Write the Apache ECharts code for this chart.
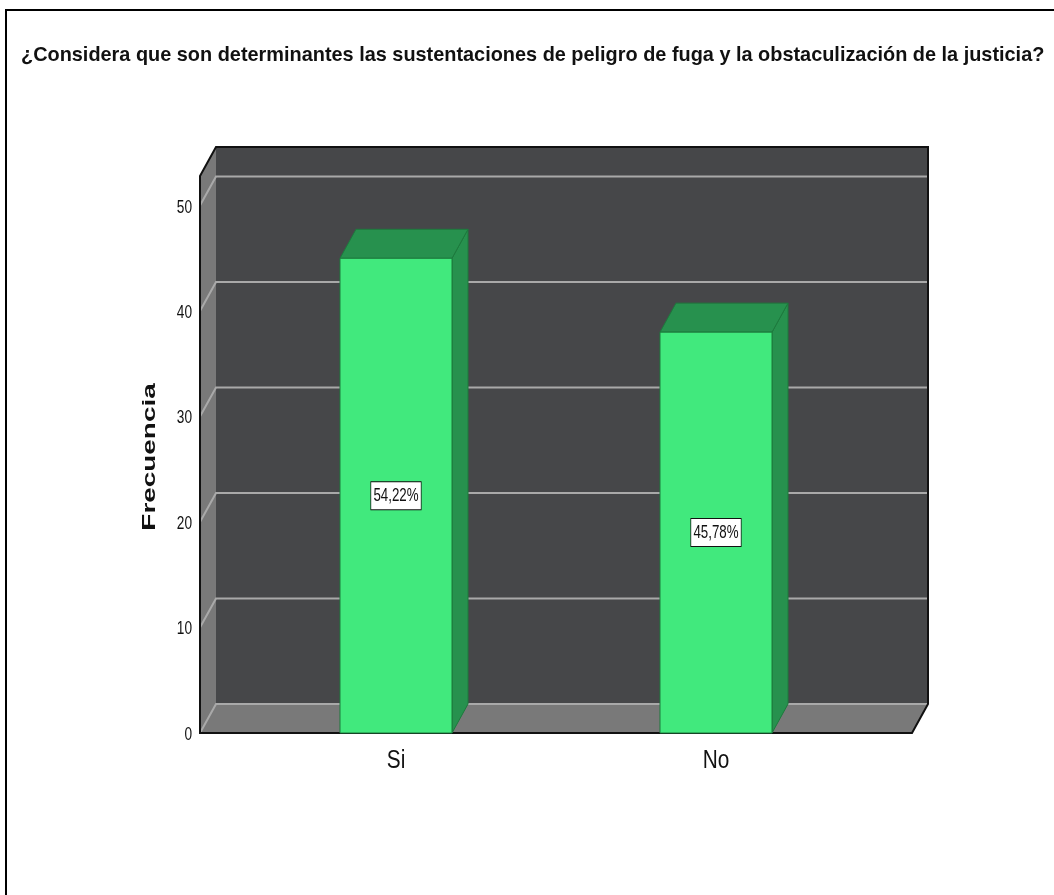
<!DOCTYPE html>
<html>
<head>
<meta charset="utf-8">
<script src="https://cdn.jsdelivr.net/npm/echarts@6/dist/echarts.min.js"></script>
<style>
html, body { margin: 0; padding: 0; background: #fff; }
#chart { width: 1054px; height: 895px; }
</style>
</head>
<body>
<div id="chart"></div>
<script>
const categories = ['Si', 'No'];
const frequencies = [45, 38];
const percentLabels = ['54,22%', '45,78%'];
const yTicks = [0, 10, 20, 30, 40, 50];

const titleText = '¿Considera que son determinantes las sustentaciones de peligro de fuga y la obstaculización de la justicia?';
const yAxisName = 'Frecuencia';

// x range padded so both categories sit like in the SPSS output
const xMin = -0.6125;
const xMax = 1.6125;
const yMax = 52.8;
const barWidth = 0.35;
const depth = [16, -29]; // fake 3D offset, px
const font = 'Liberation Sans, Arial, sans-serif';

const chart = echarts.init(document.getElementById('chart'));

function back (p) {
  return [p[0] + depth[0], p[1] + depth[1]];
}

function renderBox (params, api) {
  const fl = api.coord([xMin, 0]);
  const fr = api.coord([xMax, 0]);
  const tl = api.coord([xMin, yMax]);
  const tr = api.coord([xMax, yMax]);
  const children = [
    {
      type: 'polygon',
      shape: { points: [back(fl), back(fr), back(tr), back(tl)] },
      style: { fill: '#464749' }
    },
    {
      type: 'polygon',
      shape: { points: [fl, tl, back(tl), back(fl)] },
      style: { fill: '#797979' }
    },
    {
      type: 'polygon',
      shape: { points: [fl, fr, back(fr), back(fl)] },
      style: { fill: '#797979' }
    }
  ]
  yTicks.forEach(t => {
    const l = api.coord([xMin, t]);
    const r = api.coord([xMax, t]);
    children.push({
      type: 'polyline',
      shape: { points: [l, back(l), back(r)] },
      style: { stroke: '#a9a9a9', lineWidth: 2, fill: null }
    });
    children.push({
      type: 'text',
      x: l[0] - 8,
      y: l[1] + 2,
      scaleX: 0.76,
      style: {
        text: String(t),
        align: 'right',
        verticalAlign: 'middle',
        font: '18px ' + font,
        fill: '#111'
      }
    });
  });
  children.push({
    type: 'polygon',
    shape: { points: [fl, tl, back(tl), back(tr), back(fr), fr] },
    style: { fill: null, stroke: '#111', lineWidth: 2 }
  });
  categories.forEach((c, i) => {
    const p = api.coord([i, 0]);
    children.push({
      type: 'text',
      x: p[0],
      y: p[1] + 28,
      scaleX: 0.8,
      style: {
        text: c,
        align: 'center',
        verticalAlign: 'middle',
        font: '26px ' + font,
        fill: '#111'
      }
    });
  });
  return { type: 'group', children: children };
}

function renderBar (params, api) {
  const i = api.value(0);
  const v = api.value(1);
  const a = api.coord([i - barWidth / 2, v]);
  const b = api.coord([i + barWidth / 2, 0]);
  const mid = api.coord([i, v / 2]);
  const outline = '#1d7a3d';
  return {
    type: 'group',
    children: [
      {
        type: 'polygon',
        shape: { points: [[b[0], a[1]], back([b[0], a[1]]), back(b), b] },
        style: { fill: '#27914e', stroke: outline, lineWidth: 1 }
      },
      {
        type: 'polygon',
        shape: { points: [a, [b[0], a[1]], back([b[0], a[1]]), back(a)] },
        style: { fill: '#27914e', stroke: outline, lineWidth: 1 }
      },
      {
        type: 'rect',
        shape: { x: a[0], y: a[1], width: b[0] - a[0], height: b[1] - a[1] },
        style: { fill: '#41e97d', stroke: outline, lineWidth: 1 }
      },
      {
        type: 'text',
        x: mid[0],
        y: mid[1],
        scaleX: 0.74,
        style: {
          text: percentLabels[params.dataIndex],
          align: 'center',
          verticalAlign: 'middle',
          font: '18px ' + font,
          fill: '#111',
          backgroundColor: '#fff',
          borderColor: '#111',
          borderWidth: 1,
          padding: [5, 3, 4, 3]
        }
      }
    ]
  };
}

chart.setOption({
  animation: false,
  backgroundColor: '#fff',
  grid: { left: 200, right: 142, top: 176, bottom: 162 },
  xAxis: { type: 'value', min: xMin, max: xMax, show: false },
  yAxis: { type: 'value', min: 0, max: yMax, show: false },
  graphic: [
    {
      type: 'rect',
      shape: { x: 6, y: 10, width: 1200, height: 1000 },
      style: { fill: null, stroke: '#000', lineWidth: 2 }
    },
    {
      type: 'text',
      x: 21,
      y: 55,
      scaleX: 0.947,
      style: {
        text: titleText,
        align: 'left',
        verticalAlign: 'middle',
        font: 'bold 21px ' + font,
        fill: '#111'
      }
    },
    {
      type: 'text',
      x: 150,
      y: 457,
      rotation: Math.PI / 2,
      scaleX: 1.55,
      style: {
        text: yAxisName,
        align: 'center',
        verticalAlign: 'middle',
        font: 'bold 18px ' + font,
        fill: '#111'
      }
    }
  ],
  series: [
    {
      type: 'custom',
      z: 1,
      renderItem: renderBox,
      data: [[0, 0]]
    },
    {
      type: 'custom',
      z: 2,
      renderItem: renderBar,
      encode: { x: 0, y: 1 },
      data: categories.map((c, i) => [i, frequencies[i]])
    }
  ]
});
</script>
</body>
</html>
